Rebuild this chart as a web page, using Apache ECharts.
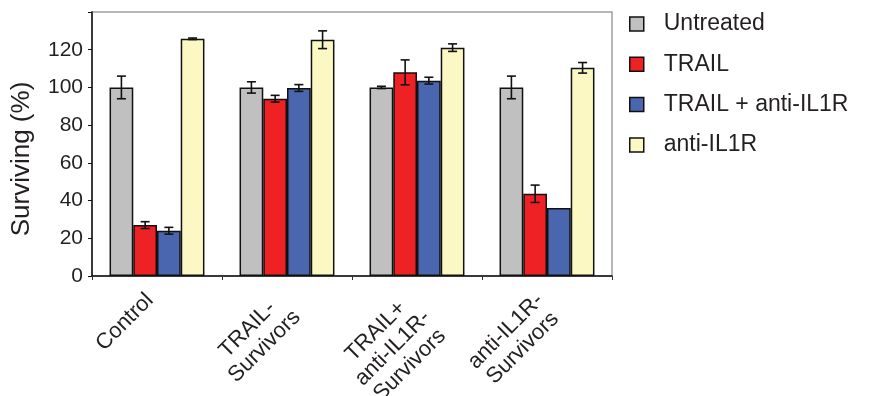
<!DOCTYPE html>
<html>
<head>
<meta charset="utf-8">
<script src="https://cdn.jsdelivr.net/npm/echarts@6/dist/echarts.min.js"></script>
<style>html,body{margin:0;padding:0;background:#fff}#c{width:870px;height:396px}</style>
</head>
<body>
<div id="c"></div>
<script>
const categories = ['Control', 'TRAIL-\nSurvivors', 'TRAIL+\nanti-IL1R-\nSurvivors', 'anti-IL1R-\nSurvivors'];
const seriesNames = ['Untreated', 'TRAIL', 'TRAIL + anti-IL1R', 'anti-IL1R'];
const untreated = [100, 100, 100, 100];
const trail = [27, 94, 108, 43.6];
const trailAnti = [24, 99.7, 103.6, 36];
const antiIL1R = [125.8, 125.3, 121.1, 110.4];
const untreatedErr = [6, 3, 0.6, 6];
const trailErr = [1.8, 1.8, 6.6, 4.6];
const trailAntiErr = [1.8, 1.8, 1.8, 0];
const antiIL1RErr = [0.4, 4.7, 2, 2.8];
const yTickLabels = [0, 20, 40, 60, 80, 100, 120];

const colors = ['#c0c0c0', '#ee2224', '#4a66ae', '#fcf8c4'];
const values = [untreated, trail, trailAnti, antiIL1R];
const errs = [untreatedErr, trailErr, trailAntiErr, antiIL1RErr];
const catGap = 0.27;
const font = 'Liberation Sans, Arial, sans-serif';

const errData = [];
values.forEach((arr, si) => arr.forEach((v, ci) => errData.push([ci, si, v, errs[si][ci]])));

const chart = echarts.init(document.getElementById('c'));
const series = seriesNames.map((n, i) => ({
  name: n, type: 'bar', data: values[i],
  barGap: '0%', barCategoryGap: (catGap * 100) + '%',
  itemStyle: { color: colors[i], borderColor: '#111', borderWidth: 1.5 },
  emphasis: { disabled: true }, z: 2
}));
series.push({
  type: 'custom', z: 5, silent: true,
  encode: { x: 0, y: 2 },
  data: errData,
  renderItem: function (params, api) {
    const ci = api.value(0), si = api.value(1), v = api.value(2), e = api.value(3);
    if (!e) return null;
    const bandW = api.size([1, 0])[0];
    const barW = bandW * (1 - catGap) / 4;
    const cx = api.coord([ci, 0])[0] + (si - 1.5) * barW;
    const yT = api.coord([ci, v + e])[1];
    const yB = api.coord([ci, v - e])[1];
    const hw = 4.5;
    const st = { stroke: '#111', lineWidth: 1.6 };
    return { type: 'group', children: [
      { type: 'line', shape: { x1: cx, y1: yT, x2: cx, y2: yB }, style: st },
      { type: 'line', shape: { x1: cx - hw, y1: yT, x2: cx + hw, y2: yT }, style: st },
      { type: 'line', shape: { x1: cx - hw, y1: yB, x2: cx + hw, y2: yB }, style: st }
    ]};
  }
});

chart.setOption({
  animation: false,
  textStyle: { fontFamily: font },
  grid: { left: 92, top: 12, right: 258, bottom: 120, outerBoundsMode: 'none', containLabel: false, show: true, borderColor: '#a0a0a0', borderWidth: 1.5, backgroundColor: 'transparent' },
  legend: {
    orient: 'vertical', left: 629, top: 12, padding: 0,
    itemWidth: 14, itemHeight: 14, itemGap: 16.3,
    icon: 'rect',
    data: seriesNames,
    itemStyle: { borderColor: '#111', borderWidth: 1.5 },
    textStyle: { fontSize: 23, lineHeight: 24, color: '#231f20', fontFamily: font, padding: [0, 0, 0, 15] }
  },
  xAxis: {
    type: 'category', data: categories,
    axisLine: { lineStyle: { color: '#111', width: 1.5 } },
    axisTick: { show: true, length: 4, lineStyle: { color: '#333' } },
    axisLabel: {
      rotate: 45, interval: 0, margin: -3, align: 'right', verticalAlign: 'top',
      padding: [0, 22, 0, 0],
      formatter: v => v.split('\n').map(s => '{c|' + s + '}').join('\n'),
      rich: { c: { align: 'center', fontSize: 22, lineHeight: 24, color: '#231f20', fontFamily: font } }
    },
    splitLine: { show: false }
  },
  yAxis: {
    type: 'value', min: 0, max: 140, interval: 20,
    name: 'Surviving (%)', nameLocation: 'middle', nameGap: 57,
    nameTextStyle: { fontSize: 26, color: '#231f20', padding: [0, 30, 0, 0] },
    axisLine: { show: true, lineStyle: { color: '#111', width: 1.5 } },
    axisTick: { show: true, length: 4, lineStyle: { color: '#111' } },
    axisLabel: { fontSize: 21, color: '#231f20', margin: 9, customValues: yTickLabels },
    splitLine: { show: false }
  },
  series: series
});
</script>
</body>
</html>
